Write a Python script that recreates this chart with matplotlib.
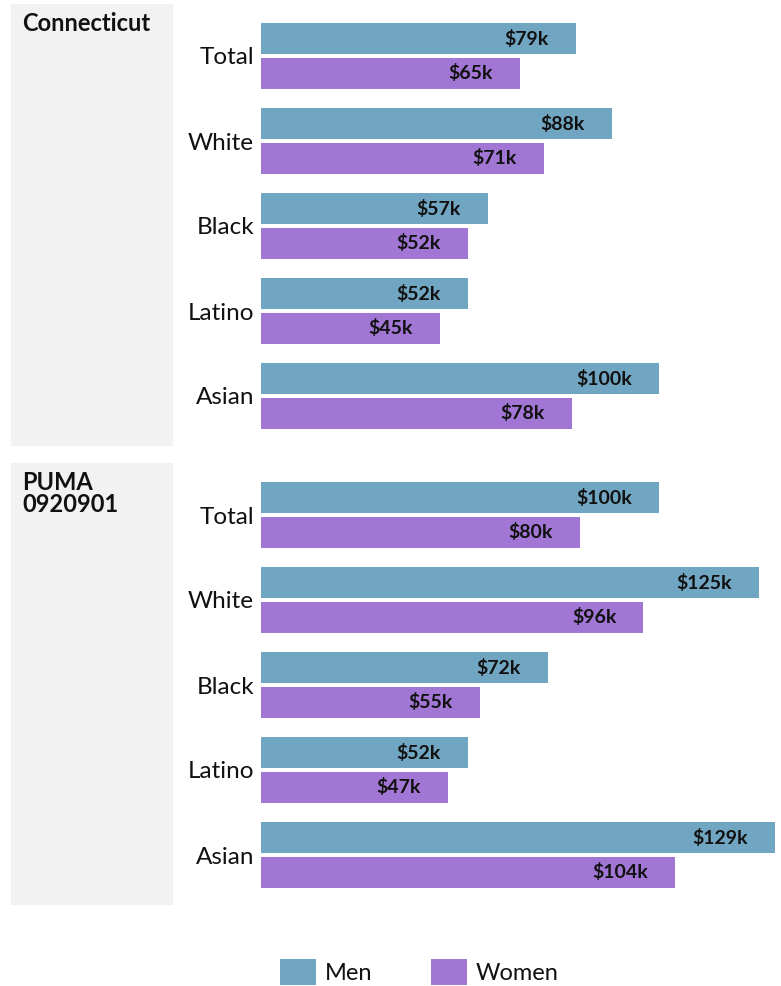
import matplotlib
matplotlib.use("Agg")
import matplotlib.pyplot as plt
from matplotlib.patches import Rectangle

plt.rcParams['font.family'] = ['Lato', 'DejaVu Sans']

categories = ["Total", "White", "Black", "Latino", "Asian"]
panels = ["Connecticut", "PUMA\n0920901"]
men = [[79, 88, 57, 52, 100], [100, 125, 72, 52, 129]]
women = [[65, 71, 52, 45, 78], [80, 96, 55, 47, 104]]
series_names = ["Men", "Women"]
colors = ["#71a6c3", "#a176d4"]

W, H = 781, 986
fig = plt.figure(figsize=(W / 100, H / 100), dpi=100)

def fx(px):
    return px / W

def fy(py):
    return 1 - py / H

panel_tops = [4, 463]
panel_h = 442
for p, top in enumerate(panel_tops):
    # gray label box
    fig.patches.append(Rectangle((fx(11), fy(top + panel_h)), fx(173) - fx(11),
                                 panel_h / H, transform=fig.transFigure,
                                 facecolor="#f2f2f2", edgecolor="none", zorder=0))
    fig.text(fx(22), fy(top + 8), panels[p], ha="left", va="top",
             fontsize=17, fontweight="bold", color="#111111", linespacing=0.95)

    ax = fig.add_axes([fx(261), fy(top + panel_h + 1), (W - 261) / W, panel_h / H])
    ax.set_xlim(0, (W - 261) / 3.984)
    ax.set_ylim(4.6, -0.6)
    ys = list(range(len(categories)))
    bh = 0.36
    ax.barh([y - 0.205 for y in ys], men[p], height=bh, color=colors[0])
    ax.barh([y + 0.205 for y in ys], women[p], height=bh, color=colors[1])
    for y, m, w in zip(ys, men[p], women[p]):
        ax.text(m - 6.8, y - 0.205, f"${m}k", ha="right", va="center",
                fontsize=14, fontweight="bold", color="#111111")
        ax.text(w - 6.8, y + 0.205, f"${w}k", ha="right", va="center",
                fontsize=14, fontweight="bold", color="#111111")
    ax.set_yticks(ys)
    ax.set_yticklabels(categories, fontsize=17.5, color="#111111")
    ax.tick_params(axis="y", length=0, pad=5)
    ax.set_xticks([])
    for s in ax.spines.values():
        s.set_visible(False)
    ax.patch.set_alpha(0)

# legend
leg_items = [(280, "Men"), (431, "Women")]
for (x0, name), c in zip(leg_items, colors):
    fig.patches.append(Rectangle((fx(x0), fy(985)), 36 / W, 26 / H,
                                 transform=fig.transFigure, facecolor=c,
                                 edgecolor="none"))
    fig.text(fx(x0 + 45), fy(974), name, ha="left", va="center",
             fontsize=17, color="#111111")

fig.savefig("out.png", dpi=100)
